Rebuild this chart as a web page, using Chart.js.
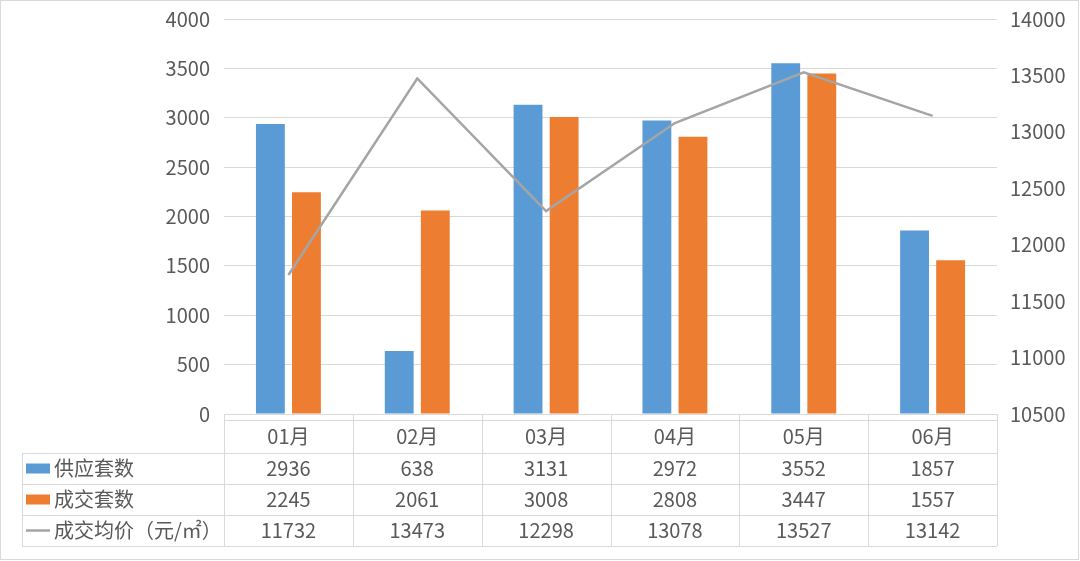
<!DOCTYPE html>
<html lang="zh">
<head>
    <meta charset="UTF-8">
    <title>供应与成交</title>
    <style>
        body { margin: 0; background: #fff; }
        .wrap { width: 1080px; height: 561px; position: relative; }
    </style>
</head>
<body>
    <div class="wrap"><canvas id="chart"></canvas></div>

    <script src="https://cdn.jsdelivr.net/npm/chart.js"></script>
    <script>
        const months = ['01月', '02月', '03月', '04月', '05月', '06月'];
        const supply = [2936, 638, 3131, 2972, 3552, 1857];
        const deals = [2245, 2061, 3008, 2808, 3447, 1557];
        const avgPrice = [11732, 13473, 12298, 13078, 13527, 13142];

        const BLUE = '#5B9BD5';
        const ORANGE = '#ED7D31';
        const GRAY = '#A5A5A5';
        const LINE = '#D9D9D9';
        const TEXT = '#595959';
        const FONT = '"Noto Sans CJK SC", "Noto Sans", sans-serif';

        // data table under the plot, columns follow the x scale
        const tablePlugin = {
            id: 'dataTable',
            afterDraw(chart) {
                const ctx = chart.ctx;
                const x = chart.scales.x;
                const area = chart.chartArea;
                const colW = (area.right - area.left) / months.length;
                const rows = [420, 453, 484, 515, 546];
                const legendLeft = 22;

                ctx.save();
                ctx.strokeStyle = LINE;
                ctx.lineWidth = 1;

                // horizontal lines
                ctx.beginPath();
                ctx.moveTo(area.left, rows[0] + 0.5);
                ctx.lineTo(area.right, rows[0] + 0.5);
                for (let r = 1; r < rows.length; r++) {
                    ctx.moveTo(legendLeft, rows[r] + 0.5);
                    ctx.lineTo(area.right, rows[r] + 0.5);
                }
                // vertical lines
                for (let i = 0; i <= months.length; i++) {
                    const px = Math.round(area.left + i * colW) + 0.5;
                    ctx.moveTo(px, area.bottom);
                    ctx.lineTo(px, rows[4]);
                }
                ctx.moveTo(legendLeft + 0.5, rows[1]);
                ctx.lineTo(legendLeft + 0.5, rows[4]);
                ctx.stroke();

                // cells
                ctx.fillStyle = TEXT;
                ctx.font = '20px ' + FONT;
                ctx.textAlign = 'center';
                ctx.textBaseline = 'middle';
                const series = [supply, deals, avgPrice];
                months.forEach((m, i) => {
                    const cx = x.getPixelForValue(i);
                    ctx.fillText(m, cx, (rows[0] + rows[1]) / 2);
                    series.forEach((s, r) => {
                        ctx.fillText(String(s[i]), cx, (rows[r + 1] + rows[r + 2]) / 2);
                    });
                });

                // legend column
                const names = chart.data.datasets.map(d => d.label);
                ctx.textAlign = 'left';
                names.forEach((name, r) => {
                    const cy = (rows[r + 1] + rows[r + 2]) / 2;
                    const ds = chart.data.datasets[r];
                    if (ds.type === 'line') {
                        ctx.strokeStyle = GRAY;
                        ctx.lineWidth = 2.5;
                        ctx.beginPath();
                        ctx.moveTo(26, cy);
                        ctx.lineTo(50, cy);
                        ctx.stroke();
                    } else {
                        ctx.fillStyle = ds.backgroundColor;
                        ctx.fillRect(26, cy - 5, 24, 10);
                    }
                    ctx.fillStyle = TEXT;
                    ctx.fillText(name, 54, cy);
                });

                // outer frame
                ctx.strokeStyle = LINE;
                ctx.lineWidth = 1;
                ctx.strokeRect(0.5, 0.5, chart.width - 2, chart.height - 2);
                ctx.restore();
            }
        };

        const plain = v => String(v);
        // keep the plot box fixed: no extra room for the half label
        const fitLeft = s => { s.width = 224; s.paddingTop = 0; s.paddingBottom = 0; };
        const fitRight = s => { s.width = 83; s.paddingTop = 0; s.paddingBottom = 0; };

        const ctx = document.getElementById('chart').getContext('2d');
        new Chart(ctx, {
            data: {
                labels: months,
                datasets: [
                    {
                        type: 'bar',
                        label: '供应套数',
                        data: supply,
                        backgroundColor: BLUE,
                        yAxisID: 'y',
                        order: 2,
                        categoryPercentage: 0.56,
                        barPercentage: 0.8
                    },
                    {
                        type: 'bar',
                        label: '成交套数',
                        data: deals,
                        backgroundColor: ORANGE,
                        yAxisID: 'y',
                        order: 2,
                        categoryPercentage: 0.56,
                        barPercentage: 0.8
                    },
                    {
                        type: 'line',
                        label: '成交均价（元/㎡）',
                        data: avgPrice,
                        borderColor: GRAY,
                        borderWidth: 2.5,
                        pointRadius: 0,
                        tension: 0,
                        yAxisID: 'y1',
                        order: 1
                    }
                ]
            },
            options: {
                responsive: true,
                maintainAspectRatio: false,
                animation: false,
                layout: { padding: { top: 19, bottom: 147, left: 0, right: 0 } },
                plugins: {
                    legend: { display: false },
                    tooltip: { enabled: false }
                },
                scales: {
                    x: { display: false },
                    y: {
                        position: 'left',
                        min: 0,
                        max: 4000,
                        ticks: { stepSize: 500, padding: 14, color: TEXT, font: { size: 20, family: FONT }, callback: plain },
                        grid: { color: LINE, drawTicks: false },
                        border: { display: false },
                        afterFit: fitLeft
                    },
                    y1: {
                        position: 'right',
                        min: 10500,
                        max: 14000,
                        ticks: { stepSize: 500, padding: 13, color: TEXT, font: { size: 20, family: FONT }, callback: plain },
                        grid: { display: false, drawTicks: false },
                        border: { display: false },
                        afterFit: fitRight
                    }
                }
            },
            plugins: [tablePlugin]
        });
    </script>
</body>
</html>
